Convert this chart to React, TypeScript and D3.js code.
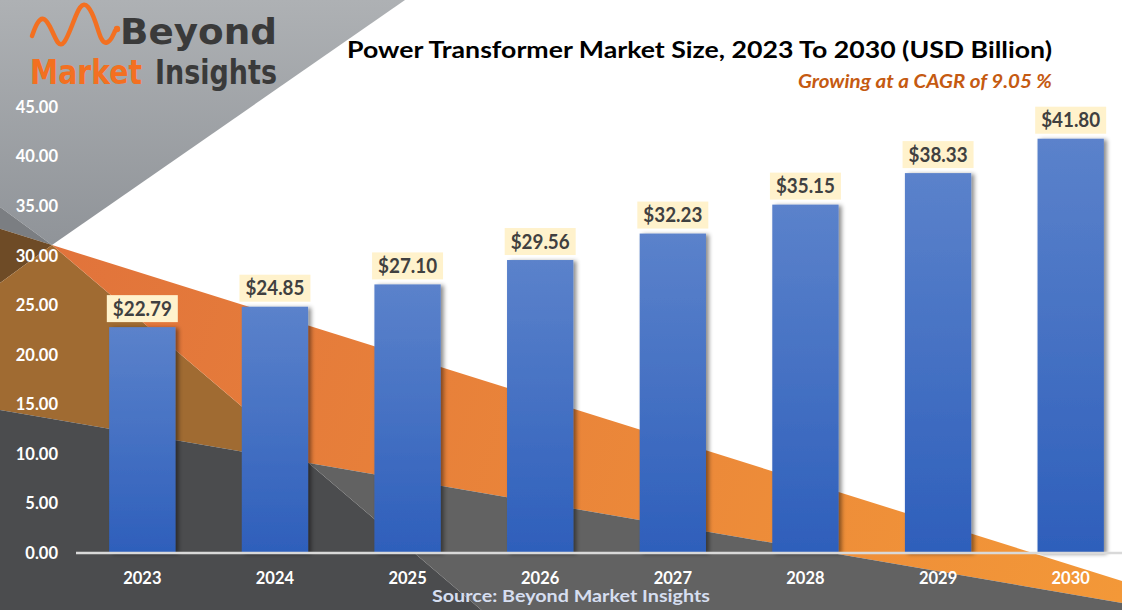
import React from "react";
import * as d3 from "d3";

const years = ["2023", "2024", "2025", "2026", "2027", "2028", "2029", "2030"];
const values = [22.79, 24.85, 27.1, 29.56, 32.23, 35.15, 38.33, 41.8];
const yTicks = [0, 5, 10, 15, 20, 25, 30, 35, 40, 45];

const W = 1122;
const H = 610;

const FONT = "Lato, 'Open Sans', 'Liberation Sans', sans-serif";
const LOGO_FONT = "'DejaVu Sans', 'Liberation Sans', Arial, sans-serif";

export default function App() {
  const x = d3.scaleBand<string>().domain(years).range([76, 1137]).paddingInner(0.5).paddingOuter(0.25);
  const y = d3.scaleLinear().domain([0, 45]).range([553, 107]);

  const pts = (a: number[][]) => a.map((p) => p.join(",")).join(" ");
  const tip = [52, 245];
  const up = (xx: number) => 228.7 + 0.314 * xx;
  const lo = (xx: number) => 410 + 0.172 * xx;
  const inter = [308.6, lo(308.6)];
  const diagBottom = [52 + (610 - 245) / 0.85, 610];

  const wave = d3.line().curve(d3.curveBasis)([
    [32, 36], [37, 22], [44, 16], [52, 30], [58, 45], [64, 45], [72, 26], [80, 4], [88, 4], [96, 22], [101, 41], [107, 44], [112, 38], [115, 31],
  ] as [number, number][]);

  return (
    <svg width={W} height={H} style={{ position: "absolute", left: 0, top: 0 }} fontFamily={FONT}>
      <defs>
        <linearGradient id="lg" x1="0" y1="0" x2="0" y2="250" gradientUnits="userSpaceOnUse">
          <stop offset="0" stopColor="#aeb1b4" />
          <stop offset="1" stopColor="#8f9398" />
        </linearGradient>
        <linearGradient id="og" x1="52" y1="245" x2="1122" y2="600" gradientUnits="userSpaceOnUse">
          <stop offset="0" stopColor="#e1733b" />
          <stop offset="1" stopColor="#f39838" />
        </linearGradient>
        <linearGradient id="bg" x1="0" y1="0" x2="0" y2="1">
          <stop offset="0" stopColor="#5b82cb" />
          <stop offset="1" stopColor="#2e5fbb" />
        </linearGradient>
        <filter id="sh" x="-20%" y="-5%" width="140%" height="110%">
          <feDropShadow dx="3" dy="1" stdDeviation="2.2" floodColor="#000" floodOpacity="0.45" />
        </filter>
      </defs>

      <rect x={0} y={0} width={W} height={H} fill="#ffffff" />
      {/* background decoration */}
      <polygon points={pts([[0, 0], [405, 0], tip, [0, 207]])} fill="url(#lg)" />
      <polygon points={pts([[0, 207], tip, [0, 228.7]])} fill="#7b7e82" />
      <polygon points={pts([[0, 228.7], tip, [0, 283]])} fill="#6e4b26" />
      <polygon points={pts([tip, inter, [0, 410], [0, 283]])} fill="#a06b32" />
      <polygon points={pts([tip, [W, up(W)], [W, lo(W)], inter])} fill="url(#og)" />
      <polygon points={pts([[0, 410], inter, diagBottom, [0, H]])} fill="#4b4c4e" />
      <polygon points={pts([inter, [W, lo(W)], [W, H], diagBottom])} fill="#626262" />

      {/* logo */}
      <path d={wave || ""} fill="none" stroke="#f37021" strokeWidth={4.5} strokeLinecap="round" />
      <circle cx={117} cy={29} r={3.2} fill="#f37021" />
      <text x={120} y={44} fontSize={36} fontWeight={700} fill="#3a3a3a" textLength={157} lengthAdjust="spacingAndGlyphs" fontFamily={LOGO_FONT}>Beyond</text>
      <text x={30} y={84} fontSize={34} fontWeight={700} fill="#f37021" textLength={112} lengthAdjust="spacingAndGlyphs" fontFamily={LOGO_FONT}>Market</text>
      <text x={155} y={84} fontSize={34} fontWeight={700} fill="#3a3a3a" textLength={122} lengthAdjust="spacingAndGlyphs" fontFamily={LOGO_FONT}>Insights</text>

      {/* title */}
      <text x={347} y={58} fontSize={23} fontWeight={700} fill="#000" textLength={705} lengthAdjust="spacingAndGlyphs">
        Power Transformer Market Size, 2023 To 2030 (USD Billion)
      </text>
      <text x={1052} y={88} fontSize={18.5} fontWeight={700} fontStyle="italic" fill="#c55a11" textAnchor="end" textLength={254} lengthAdjust="spacingAndGlyphs">
        Growing at a CAGR of 9.05 %
      </text>

      {/* y axis labels */}
      {yTicks.map((t) => (
        <text key={t} x={58} y={y(t)} dy="0.36em" fontSize={16.5} fontWeight={700} fill="#ffffff" textAnchor="end">
          {t.toFixed(2)}
        </text>
      ))}

      {/* bars */}
      {years.map((yr, i) => (
        <rect key={yr} x={x(yr)} y={y(values[i])} width={x.bandwidth()} height={y(0) - y(values[i])} fill="url(#bg)" filter="url(#sh)" />
      ))}

      {/* axis line */}
      <line x1={76} x2={W} y1={y(0)} y2={y(0)} stroke="#d9d9d9" strokeWidth={2.5} />

      {/* value labels */}
      {years.map((yr, i) => {
        const cx = (x(yr) as number) + x.bandwidth() / 2;
        const top = y(values[i]);
        return (
          <g key={yr}>
            <rect x={cx - 35.5} y={top - 32} width={71} height={27} fill="#fff2cc" />
            <text x={cx} y={top - 11.5} fontSize={20} fontWeight={700} fill="#404040" textAnchor="middle" textLength={59} lengthAdjust="spacingAndGlyphs">
              {"$" + values[i].toFixed(2)}
            </text>
          </g>
        );
      })}

      {/* x labels */}
      {years.map((yr) => (
        <text key={yr} x={(x(yr) as number) + x.bandwidth() / 2} y={578} dy="0.36em" fontSize={16.5} fontWeight={700} fill="#ffffff" textAnchor="middle">
          {yr}
        </text>
      ))}

      <text x={571} y={602} fontSize={17} fontWeight={700} fill="#d6def0" textAnchor="middle" textLength={278} lengthAdjust="spacingAndGlyphs">
        Source: Beyond Market Insights
      </text>
    </svg>
  );
}
